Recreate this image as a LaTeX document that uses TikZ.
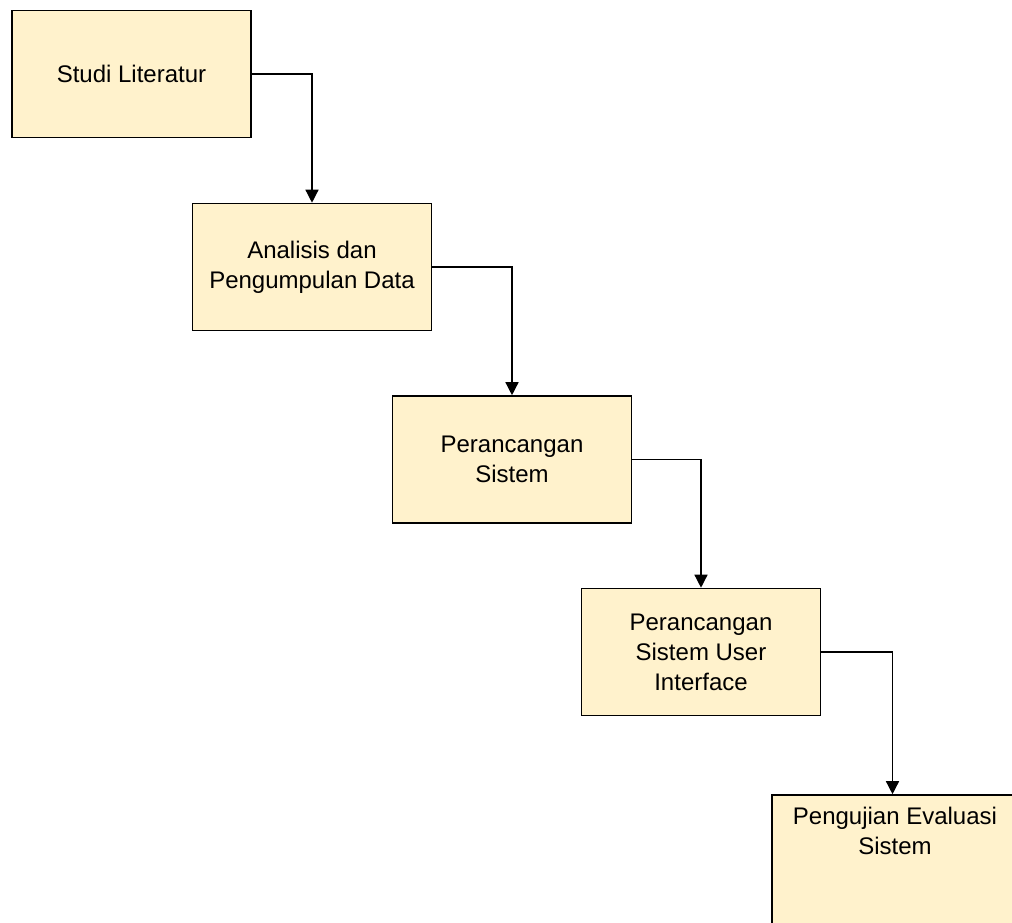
\documentclass[tikz,border=0pt]{standalone}
\usepackage{fontspec}
\setmainfont{Liberation Sans}
\usetikzlibrary{positioning,calc,arrows.meta}
\definecolor{boxfill}{RGB}{255,242,204}

\begin{document}
\begin{tikzpicture}[x=1pt,y=-1pt,font=\fontsize{24}{30}\selectfont,>={Triangle[length=13pt,width=13pt]},
      box/.style={draw,line width=1.6pt,fill=boxfill,align=center,minimum width=239pt,minimum height=127pt},
      flow/.style={->,line width=1.4pt}]
    \useasboundingbox (0,0) rectangle (1012,922);
    \node[box] (studi) at (131.5,74) {Studi Literatur};
    \node[box] (analisis) at (312,267) {Analisis dan\\Pengumpulan Data};
    \node[box] (rancang) at (512,459.5) {Perancangan\\Sistem};
    \node[box] (ui) at (701,652) {Perancangan\\Sistem User\\Interface};
    % the last box runs off the page at the right and bottom
    \node[box,minimum width=246pt,minimum height=140pt,text height=48pt,text depth=70pt] (uji) at (895,865) {Pengujian Evaluasi\\Sistem};
    \draw[flow] (studi.east) -| (analisis.north);
    \draw[flow] (analisis.east) -| (rancang.north);
    \draw[flow] (rancang.east) -| (ui.north);
    \draw[flow] (ui.east) -| ([xshift=-2.5pt]uji.north);
  \end{tikzpicture}
\end{document}
